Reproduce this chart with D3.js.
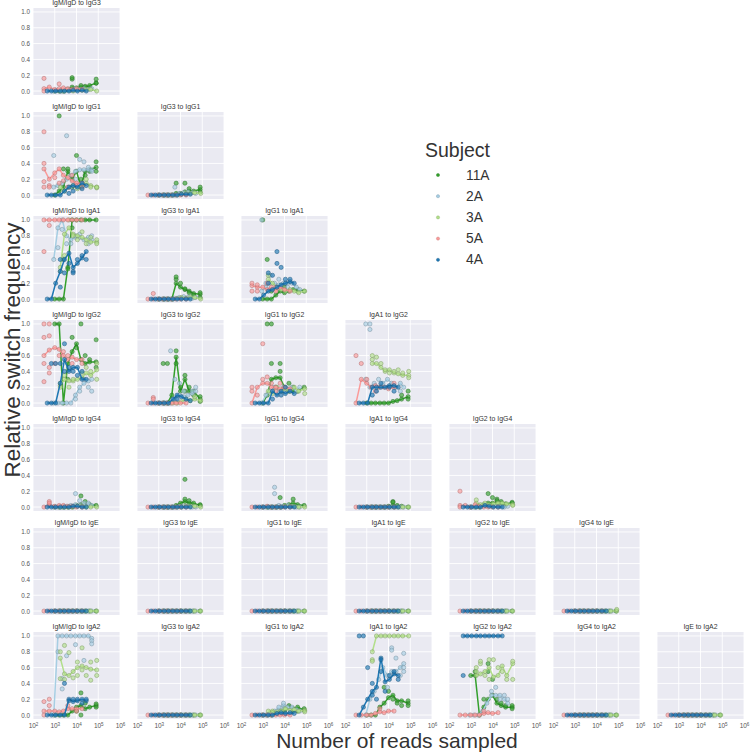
<!DOCTYPE html>
<html><head><meta charset="utf-8">
<script src="https://cdn.jsdelivr.net/npm/d3@7"></script>
<style>
body{margin:0;background:#fff}
text{font-family:"Liberation Sans",Arial,sans-serif}
</style>
</head><body>
<svg id="c" width="752" height="753"></svg>
<script>
// ---------------- data ----------------
const subjects = ["11A", "2A", "3A", "5A", "4A"];
const subjectColors = ["#33a02c", "#a6cee3", "#b2df8a", "#fb9a99", "#1f78b4"];

// reads sampled (x positions) per subject
const reads11A = [1000, 1600, 2500, 4000, 6300, 10000, 16000, 25000, 40000, 80000];
const reads2A  = [900, 1400, 2200, 3500, 5500, 9000, 14000, 22000, 35000, 50000];
const reads3A  = [1800, 2800, 4500, 7000, 11000, 18000, 28000, 45000, 85000];
const reads5A  = [320, 560, 1000, 1600, 2500, 4000, 6300, 10000, 18000];
const reads4A  = [450, 700, 1100, 1800, 2800, 4500, 7000, 11000, 18000, 28000];
const readsBySubject = [reads11A, reads2A, reads3A, reads5A, reads4A];

const sources = ["IgM/IgD", "IgG3", "IgG1", "IgA1", "IgG2", "IgG4", "IgE"];
const targets = ["IgG3", "IgG1", "IgA1", "IgG2", "IgG4", "IgE", "IgA2"];

const xTicks = [1e2, 1e3, 1e4, 1e5, 1e6];
const xTickExponents = ["2", "3", "4", "5", "6"];
const yTicks = [0, 0.2, 0.4, 0.6, 0.8, 1.0];

// Each series string: one entry per sample size; "line/extra/extra" -> first value is the
// plotted line value, all values are drawn as unit points. Order: 11A, 2A, 3A, 5A, 4A.
const Z10 = "0 0 0 0 0 0 0 0 0 0";
const Z9  = "0 0 0 0 0 0 0 0 0";

const IgMIgD_IgG3 = [
  "0 0 0 0.02 0.05/0.15/0.17 0.04/0.02 0.05/0.07 0.05/0.06 0.07/0.03 0.1/0.15/0.1",
  "0 0.01 0 0.02 0.01 0.03 0.02 0.03 0.02 0.03",
  "0 0 0.01 0 0.02 0.01 0.02 0.02 0",
  "0.03/0.16/0 0.05 0.02 0.03/0.09 0.04 0.03 0.02 0.03 0.02",
  "0 0 0 0 0 0 0.01 0 0.01 0"];
const IgMIgD_IgG1 = [
  "0 0.05/1 0.1/0.33 0.3/0.33 0.2/0.1 0.3/0.5 0.1/0.2 0.3/0.25 0.32/0.3 0.35/0.42/0.3",
  "0.1/0.5 0.12 0.15 0.2/0.75 0.25/0.1 0.3/0.2 0.32/0.45 0.32/0.42 0.32/0.35 0.32/0.3",
  "0.1 0.05 0.1 0.12 0.08 0.12/0.15 0.15/0.2 0.12/0.1 0.1/0.09/0.1",
  "0.33/0.8/0.4/0.17/0.1 0.2/0.12/0.1 0.28/0.22 0.33/0.15 0.25/0.18 0.22/0.1 0.18/0.25 0.15/0.12 0.15/0.1",
  "0 0 0 0 0.05 0.1/0.02 0.12/0.05 0.1 0.15/0.08 0.12"];
const IgMIgD_IgA1 = [
  "0 0 0/0.5 0.4/0.38 1/0.9 1 1 1 1 1",
  "0.5 0.9/0.65 1/0.88 0.8/0.7 0.75/0.7 0.78/0.8 0.78/0.82 0.75 0.78/0.7 0.75/0.8",
  "0.4/0.35 0.82/0.55 0.9/1 0.82/0.8 0.8/0.75 0.78/0.85 0.75/0.7 0.72/0.78 0.72/0.7/0.75",
  "1/0.6 1/0.93 1 1 1 1 1 1 1",
  "0 0 0.2 0.35/0.15/0.5 0.5/0.33 0.58/0.45 0.4/0.35/0.33 0.45/0.5 0.52/0.55 0.6/0.5"];
const IgMIgD_IgG2 = [
  "1 1 0 0.5/0.3 0.65/0.83 0.75/0.7 0.55/1 0.5/0.6 0.52/0.55 0.52/0.8/0.45",
  "0 0 0 0 0 0.1/0.05 0.2/0.15 0.25/0.3 0.28/0.2 0.3/0.15",
  "0.22/0.25/0.2 0.3/0.35 0.28/0.2 0.28/0.3 0.3 0.32/0.38 0.38/0.45 0.35/0.4 0.42/0.5/0.3",
  "0.6/1/0.83/0.5/0.27 0.67/1/0.85/0.45/0.38 0.7/0.5 0.68/0.6 0.6/0.65 0.55/0.6 0.58/0.5 0.55 0.55/0.5",
  "0 0/0.5 0/0.5 0.25/0.5 0.55/0.75/0.4 0.4/0.45 0.45/0.4 0.45/0.35 0.3/0.4 0.3"];
const IgMIgD_IgG4 = [
  "0 0 0 0 0 0.02 0.03/0.14 0.02/0.07 0.03 0.02",
  "0 0 0 0.01 0.02 0.03/0.17 0.02/0.08 0.02/0.05 0.03/0.05 0.02",
  "0 0 0 0 0.01 0.01 0 0 0",
  "0 0.03/0.07/0.05 0.01 0.02 0.02 0.01 0.01 0 0",
  "0 0 0 0 0 0 0.01 0.01 0 0"];
const IgMIgD_IgE = [Z10, Z10, Z9, Z9, Z10];
const IgMIgD_IgA2 = [
  "0 0 0 0 0.05 0.1/0.05 0.12/0.28/0 0.08/0.15 0.1 0.12/0.1/0.14",
  "0 1/0.8 1/0.46/0.33 1/0.75 1 1/0.89 1 1/0.69 1 0.97/0.94/0.9",
  "0.72/0.8/0.46 0.52/0.88/0.45 0.5/0.79 0.55/0.47 0.6/0.67/0.5 0.62/0.85/0.57 0.6/0.5 0.58/0.67/0.44 0.57/0.69/0.5",
  "0.05/0.17/0 0.05/0.2/0.12 0.05 0.04 0.05 0.08/0.12 0.08 0.08/0.05 0.08",
  "0 0 0 0 0/0.4 0.2/0.18 0.17/0.2 0.18/0.2 0.2/0.15 0.18/0.2"];

const IgG3_IgG1 = [
  "0 0 0 0 0.02/0.15 0.02 0.04/0.15 0.05/0.08 0.05 0.07/0.1/0.04",
  "0 0 0 0 0/0.1 0.02 0.03 0.04 0.03 0.02",
  "0 0 0 0 0.01 0.02 0.02 0.03 0.02",
  Z9,
  "0 0 0 0 0 0 0 0.01 0.01 0.01"];
const IgG3_IgA1 = [
  "0 0 0 0 0.2/0.25/0.28 0.15/0.2 0.12/0.13 0.1/0.08 0.07/0.05 0.06/0.08/0.02",
  "0 0 0 0 0.01 0.02 0.03 0.02 0.01 0.02",
  "0 0 0 0.01 0.02 0.01 0.02 0.02 0",
  "0 0/0.07 0 0 0 0 0 0 0",
  Z10];
const IgG3_IgG2 = [
  "0 0/0.5 0/0.5 0.1 0.58/0.66/0.5 0.15/0.2 0.3/0.35/0.15 0.15/0.2 0.15/0.1 0.05/0.08/0.02",
  "0 0 0 0/0.66 0.05/0.3 0.1/0.25 0.08/0.15 0.1 0.12/0.15 0.15/0.2",
  "0 0 0 0 0.02 0.05 0.03 0.05/0.08 0.03",
  "0 0/0.07/0.05 0 0 0 0 0 0 0",
  "0 0 0 0 0 0.05 0.1/0.05 0.08 0.05 0.03"];
const IgG3_IgG4 = [
  "0 0 0 0 0.02 0.05 0.07/0.35/0.1 0.05/0.08 0.05 0.02/0.03",
  "0 0 0 0 0 0.01 0.01 0.01 0 0",
  "0 0 0 0 0 0.01 0.01 0.01 0",
  Z9, Z10];
const IgG3_IgE = [Z10, Z10, Z9, Z9, Z10];
const IgG3_IgA2 = [Z10, Z10, Z9, Z9, Z10];

const IgG1_IgA1 = [
  "0/1 0/0.5 0/0.1 0.05 0.1 0.08/0.15 0.1 0.12 0.12/0.1 0.1",
  "0.1/1 0.15/0.2 0.2/0.3 0.2 0.18/0.25 0.2 0.2/0.15 0.2 0.15 0.12",
  "0.25/0.3 0.2 0.15 0.12 0.1 0.12 0.1 0.08 0.1",
  "0.17/0.2/0.1 0.15/0.18/0.1 0.15 0.12/0.2 0.15 0.1/0.15 0.15 0.12 0.1",
  "0 0 0.05 0.1/0.2/0.33 0.12/0.3 0.15/0.6/0.45 0.18/0.4 0.2/0.25 0.22/0.25 0.2"];
const IgG1_IgG2 = [
  "0 0.1/1 0.3/1/0.5 0.32/0.2 0.32/0.5/0.4 0.2 0.15/0.25 0.15/0.2 0.15 0.2",
  "0 0.1 0.15 0.2 0.15 0.2/0.15 0.18 0.2 0.15 0.2",
  "0.15 0.12 0.2 0.15 0.18 0.15 0.2 0.15 0.18/0.12",
  "0/0.2/0.15 0.2/0.1 0.25/0.75/0.3 0.25/0.33 0.2/0.25 0.2/0.15 0.18/0.25 0.2 0.18",
  "0 0 0 0 0.15/0.05 0.1 0.15/0.1 0.12/0.2 0.15 0.12"];
const IgG1_IgG4 = [
  "0 0 0 0 0/0.12 0.02 0.03 0.05/0.1 0.03 0.02",
  "0 0 0 0/0.25/0.17 0.02 0.01 0.02 0.01 0 0",
  "0 0 0 0 0.01 0.01 0.01 0 0",
  "0 0 0 0.01 0 0 0 0 0",
  Z10];
const IgG1_IgE = [Z10, Z10, Z9, Z9, Z10];
const IgG1_IgA2 = [
  "0 0 0 0.02 0.05 0.08/0.05 0.1/0.12 0.08/0.05 0.1/0.05 0.06/0.08",
  "0 0 0.02 0.05 0.1/0.05 0.12/0.15/0.08 0.1 0.08/0.1 0.07 0.05",
  "0.05 0.05/0.03 0.04 0.05 0.08 0.06 0.07 0.05 0.06/0.04",
  Z9,
  "0 0 0 0 0 0.02 0.03 0.02 0.03 0.02"];

const IgA1_IgG2 = [
  "0 0 0 0 0 0 0.02 0.03 0.05/0.1 0.08/0.15/0.05",
  "0.3/1 0.2/1/0.93 0.25 0.2/0.3 0.25 0.3/0.2 0.25 0.2 0.25/0.15 0.2",
  "0.5/0.6/0.55 0.5/0.58 0.45/0.5 0.4/0.42 0.42/0.38 0.38/0.4 0.37/0.42 0.35/0.38 0.35/0.32/0.4",
  "0/0.6 0.3/0.5 0.25/0.3 0.2 0.22/0.15 0.2 0.2 0.18 0.2/0.25",
  "0 0 0 0.2/0.1 0.2/0.15 0.2/0.25 0.2 0.22/0.2 0.22/0.15 0.2"];
const IgA1_IgG4 = [
  "0 0 0 0 0 0.01 0.02/0.07/0.06 0.02 0.01 0",
  Z10, Z9, Z9, Z10];
const IgA1_IgE = [Z10, Z10, Z9, Z9, Z10];
const IgA1_IgA2 = [
  "0 0 0 0.1 0.15/0.35 0.22/0.3 0.25/0.2 0.18/0.15 0.18/0.12 0.15/0.18/0.12",
  "0 0.2 0.3 0.45 0.6 0.5/0.35 0.55/0.85/0.82 0.55/0.72 0.6/0.5 0.65/0.78/0.6/0.55",
  "0.8/0.7/0.68 1 1 1 1 1 1 1 1",
  "0 0 0 0 0.02 0.04/0.08 0.03 0.05 0.05",
  "0/1 0.1/1 0.2/0.6 0.3/0.4/0.25 0.35/0.2 0.72/0.7/0.55 0.42/0.3 0.45/0.5 0.52/0.55 0.5/0.45"];

const IgG2_IgG4 = [
  "0 0 0 0.03 0.05/0.17 0.05/0.12 0.05/0.1/0.08 0.05/0.07 0.04 0.05/0.06",
  "0 0 0.01 0.02 0.02 0.01 0.02 0.01 0 0.01",
  "0.05/0.09 0.03 0.05 0.03 0.04 0.05 0.05 0.04 0.03/0.02",
  "0.02/0.2/0 0.02 0 0.03 0.01 0 0 0 0",
  "0 0 0 0 0 0.02 0.01 0 0 0"];
const IgG2_IgE = [Z10, Z10, Z9, Z9, Z10];
const IgG2_IgA2 = [
  "0.5 0.5/0.55 0 0.1/0.2 0.2/0.65/0.55 0.25/0.45 0.15/0.2 0.12/0.15 0.1/0.12 0.1/0.12/0.08",
  "0 0 0 0.05 0.15 0.25/0.3 0.25/0.35 0.25/0.2 0.2/0.25 0.15/0.2",
  "0.5/0.55/0.6 0.52/0.65/0.68 0.55/0.5 0.6/0.7/0.45 0.48/0.7 0.5/0.6 0.62/0.55 0.5/0.45 0.65/0.68/0.45",
  "0 0 0 0 0 0.02/0.05 0.03 0.02 0.03",
  "1/0.5 1 1 1 1 1 1 1 1 1"];

const IgG4_IgE = [Z10, Z10, "0 0 0 0 0 0 0 0 0/0.02", Z9, Z10];
const IgG4_IgA2 = [Z10, Z10, Z9, Z9, Z10];
const IgE_IgA2 = [Z10, Z10, Z9, Z9, Z10];

const panels = [
  ["IgM/IgD", "IgG3", IgMIgD_IgG3], ["IgM/IgD", "IgG1", IgMIgD_IgG1], ["IgM/IgD", "IgA1", IgMIgD_IgA1],
  ["IgM/IgD", "IgG2", IgMIgD_IgG2], ["IgM/IgD", "IgG4", IgMIgD_IgG4], ["IgM/IgD", "IgE", IgMIgD_IgE],
  ["IgM/IgD", "IgA2", IgMIgD_IgA2],
  ["IgG3", "IgG1", IgG3_IgG1], ["IgG3", "IgA1", IgG3_IgA1], ["IgG3", "IgG2", IgG3_IgG2],
  ["IgG3", "IgG4", IgG3_IgG4], ["IgG3", "IgE", IgG3_IgE], ["IgG3", "IgA2", IgG3_IgA2],
  ["IgG1", "IgA1", IgG1_IgA1], ["IgG1", "IgG2", IgG1_IgG2], ["IgG1", "IgG4", IgG1_IgG4],
  ["IgG1", "IgE", IgG1_IgE], ["IgG1", "IgA2", IgG1_IgA2],
  ["IgA1", "IgG2", IgA1_IgG2], ["IgA1", "IgG4", IgA1_IgG4], ["IgA1", "IgE", IgA1_IgE], ["IgA1", "IgA2", IgA1_IgA2],
  ["IgG2", "IgG4", IgG2_IgG4], ["IgG2", "IgE", IgG2_IgE], ["IgG2", "IgA2", IgG2_IgA2],
  ["IgG4", "IgE", IgG4_IgE], ["IgG4", "IgA2", IgG4_IgA2],
  ["IgE", "IgA2", IgE_IgA2]
];

// ---------------- drawing ----------------
const svg = d3.select("#c");
const W = 87, H = 87, X0 = 33, Y0 = 8, STEP = 104;
const x = d3.scaleLog().domain([1e2, 1e6]).range([0, W]);
const y = d3.scaleLinear().domain([-0.05, 1.05]).range([H, 0]);
const line = d3.line().x(d => x(d.n)).y(d => y(d.v));

function parseSeries(str, reads) {
  return str.trim().split(/\s+/).map((tok, i) => {
    const vals = tok.split("/").map(Number);
    return { n: reads[i], v: vals[0], pts: vals };
  });
}

panels.forEach(([src, tgt, series]) => {
  const r = targets.indexOf(tgt), c = sources.indexOf(src);
  const g = svg.append("g").attr("transform", `translate(${X0 + c * STEP},${Y0 + r * STEP})`);
  g.append("rect").attr("width", W).attr("height", H).attr("fill", "#EAEAF2");
  g.selectAll(".gy").data(yTicks).join("line")
    .attr("x1", 0).attr("x2", W).attr("y1", d => y(d)).attr("y2", d => y(d))
    .attr("stroke", "#fff").attr("stroke-width", 0.9);
  g.selectAll(".gx").data(xTicks).join("line")
    .attr("y1", 0).attr("y2", H).attr("x1", d => x(d)).attr("x2", d => x(d))
    .attr("stroke", "#fff").attr("stroke-width", 0.9);

  g.append("text").attr("x", W / 2).attr("y", -3).attr("text-anchor", "middle")
    .attr("font-size", 6.9).attr("fill", "#333").text(`${src} to ${tgt}`);

  if (c === 0) {
    const ax = g.append("g").call(d3.axisLeft(y).tickValues(yTicks).tickFormat(d3.format(".1f")).tickSize(0).tickPadding(3));
    ax.select(".domain").remove();
    ax.selectAll("text").attr("font-size", 6.3).attr("fill", "#555").attr("font-family", "Liberation Sans, Arial, sans-serif");
  }
  if (r === targets.length - 1) {
    const ax = g.append("g").attr("transform", `translate(0,${H})`)
      .call(d3.axisBottom(x).tickValues(xTicks).tickSize(0).tickPadding(4));
    ax.select(".domain").remove();
    ax.selectAll("text").attr("font-size", 6.5).attr("fill", "#555").attr("font-family", "Liberation Sans, Arial, sans-serif")
      .each(function (d, i) {
        const t = d3.select(this);
        t.text("10");
        t.append("tspan").attr("dy", "-0.45em").attr("font-size", "0.7em").text(xTickExponents[i]);
      });
  }

  series.forEach((str, si) => {
    const data = parseSeries(str, readsBySubject[si]);
    const col = subjectColors[si];
    g.append("path").datum(data).attr("d", line).attr("fill", "none")
      .attr("stroke", col).attr("stroke-width", 1.5).attr("stroke-linejoin", "round");
    const pts = data.flatMap(d => d.pts.map(v => ({ n: d.n, v })));
    g.selectAll(null).data(pts).join("circle")
      .attr("cx", d => x(d.n)).attr("cy", d => y(d.v)).attr("r", 2.1)
      .attr("fill", col).attr("fill-opacity", 0.65)
      .attr("stroke", d3.color(col).darker(1.0)).attr("stroke-opacity", 0.8).attr("stroke-width", 0.6);
  });
});

// legend
const leg = svg.append("g");
leg.append("text").attr("x", 425).attr("y", 157).attr("font-size", 19.5).attr("fill", "#333").text("Subject");
subjects.forEach((s, i) => {
  const yy = 179.5 + i * 21.2;
  leg.append("circle").attr("cx", 438).attr("cy", yy - 4.5).attr("r", 1.6)
    .attr("fill", subjectColors[i]).attr("stroke", d3.color(subjectColors[i]).darker(0.7)).attr("stroke-width", 0.4);
  leg.append("text").attr("x", 466).attr("y", yy).attr("font-size", 13.8).attr("fill", "#333").text(s);
});

// axis labels
svg.append("text").attr("x", 397).attr("y", 748).attr("text-anchor", "middle")
  .attr("font-size", 21).attr("fill", "#333").text("Number of reads sampled");
svg.append("text").attr("transform", "translate(20,350) rotate(-90)").attr("text-anchor", "middle")
  .attr("font-size", 22.5).attr("fill", "#333").text("Relative switch frequency");
</script>
</body></html>
